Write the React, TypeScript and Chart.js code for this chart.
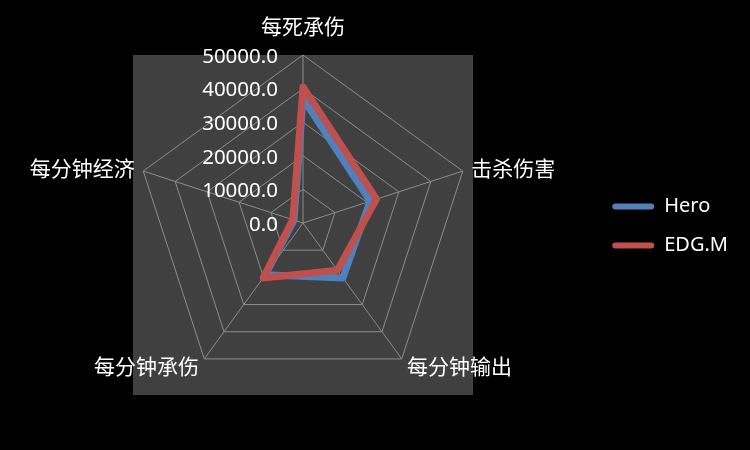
import React, { useEffect, useRef } from "react";
import { Chart, registerables } from "chart.js";

Chart.register(...registerables);

const categories = ["每死承伤", "击杀伤害", "每分钟输出", "每分钟承伤", "每分钟经济"];
const heroValues = [37000, 21000, 20200, 19000, 2800];
const edgmValues = [40500, 23000, 17400, 20200, 3200];
const seriesNames = ["Hero", "EDG.M"];
const seriesColors = ["#4F81BD", "#C0504D"];
const axisMin = 0;
const axisMax = 50000;
const axisStep = 10000;

const bgPlugin = {
  id: "plotBg",
  beforeDraw(chart: any) {
    const ctx = chart.ctx;
    ctx.save();
    ctx.fillStyle = "#000000";
    ctx.fillRect(0, 0, chart.width, chart.height);
    const s = chart.scales.r;
    const R = s.drawingArea;
    ctx.fillStyle = "#404040";
    ctx.fillRect(s.xCenter - R - 2, s.yCenter - R, 2 * R + 4, 2 * R + 4);
    ctx.restore();
  },
  beforeDatasetsDraw(chart: any) {
    const ctx = chart.ctx;
    const s = chart.scales.r;
    ctx.save();
    // tick labels
    ctx.font = "20.5px 'Noto Sans', sans-serif";
    ctx.fillStyle = "#FFFFFF";
    ctx.textAlign = "right";
    ctx.textBaseline = "middle";
    s.ticks.forEach((t: any) => {
      const d = s.getDistanceFromCenterForValue(t.value);
      ctx.fillText(Number(t.value).toFixed(1), s.xCenter - 25, s.yCenter - d + 2);
    });
    // point labels
    ctx.font = "21px 'Noto Sans CJK SC', sans-serif";
    const labels = chart.data.labels;
    labels.forEach((lab: string, i: number) => {
      const p = s.getPointPosition(i, s.drawingArea + 9);
      let x = p.x;
      let y = p.y;
      const dx = p.x - s.xCenter;
      if (Math.abs(dx) < 1) {
        ctx.textAlign = "center";
        if (p.y < s.yCenter) y -= 20;
        else y += 20;
      } else if (dx > 0) {
        ctx.textAlign = "left";
      } else {
        ctx.textAlign = "right";
      }
      ctx.fillText(lab, x, y);
    });
    ctx.restore();
  },
};

export default function App() {
  const ref = useRef<HTMLCanvasElement>(null);
  useEffect(() => {
    if (!ref.current) return;
    const chart = new Chart(ref.current, {
      type: "radar",
      data: {
        labels: categories,
        datasets: [
          {
            label: seriesNames[0],
            data: heroValues,
            borderColor: seriesColors[0],
            backgroundColor: seriesColors[0],
            borderWidth: 7,
            fill: false,
            pointRadius: 0,
            borderJoinStyle: "round",
            order: 1,
          },
          {
            label: seriesNames[1],
            data: edgmValues,
            borderColor: seriesColors[1],
            backgroundColor: seriesColors[1],
            borderWidth: 7,
            fill: false,
            pointRadius: 0,
            borderJoinStyle: "round",
            order: 0,
          },
        ],
      },
      options: {
        responsive: false,
        animation: false,
        devicePixelRatio: 1,
        layout: { padding: { top: 55, bottom: 59, left: 14, right: 12 } },
        elements: { line: { tension: 0 } },
        scales: {
          r: {
            min: axisMin,
            max: axisMax,
            ticks: { stepSize: axisStep, display: false },
            grid: { color: "#8C8C8C", lineWidth: 1 },
            angleLines: { color: "#8C8C8C", lineWidth: 1 },
            pointLabels: { display: false },
          },
        },
        plugins: {
          tooltip: { enabled: false },
          legend: {
            position: "right",
            title: { display: true, text: "", font: { size: 5 }, padding: 0 },
            labels: {
              color: "#FFFFFF",
              font: { size: 20, family: "'Noto Sans', sans-serif" },
              boxWidth: 42,
              boxHeight: 6,
              padding: 19,
              useBorderRadius: true,
              borderRadius: 3,
              generateLabels: (ch: any) =>
                ch.data.datasets.map((ds: any, i: number) => ({
                  text: ds.label,
                  fillStyle: ds.borderColor,
                  strokeStyle: ds.borderColor,
                  lineWidth: 0,
                  fontColor: "#FFFFFF",
                  hidden: false,
                  datasetIndex: i,
                  borderRadius: 3,
                })),
            },
          },
        },
      },
      plugins: [bgPlugin],
    });
    return () => chart.destroy();
  }, []);
  return (
    <div style={{ position: "fixed", left: 0, top: 0, width: 750, height: 450, background: "#000" }}>
      <canvas ref={ref} width={750} height={450} style={{ display: "block" }} />
    </div>
  );
}
